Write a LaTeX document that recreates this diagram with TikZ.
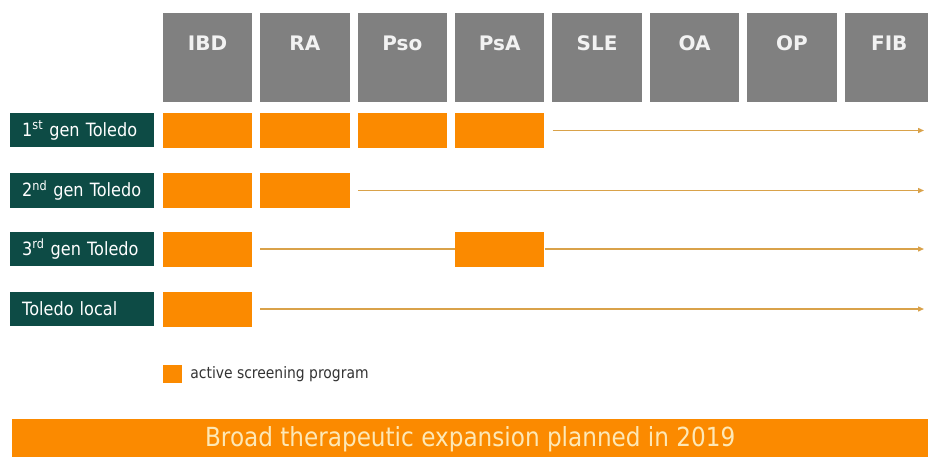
\documentclass[tikz,border=0pt]{standalone}
\usepackage{fontspec}
\setmainfont{DejaVu Sans}[FakeStretch=0.88]
\newfontfamily\hdrfont{DejaVu Sans}
\usetikzlibrary{arrows.meta}

\definecolor{hdrgray}{HTML}{808080}
\definecolor{barorange}{HTML}{FB8A00}
\definecolor{rowgreen}{HTML}{0D4B45}
\definecolor{linegold}{HTML}{D9A24A}
\definecolor{cream}{HTML}{FDE8B6}

\tikzset{
  hdr/.style={fill=hdrgray, inner sep=0pt, minimum width=89.5pt, text height=37pt, text depth=52pt,
    anchor=north, text=white!95!black, font=\hdrfont\bfseries\fontsize{20}{24}\selectfont},
  rowlbl/.style={fill=rowgreen, text=white, inner xsep=12pt, inner ysep=0pt, minimum height=34pt,
    text width=120pt, align=left, anchor=west, font=\fontsize{18.3}{20}\selectfont},
  bar/.style={fill=barorange, minimum width=89.5pt, minimum height=35pt, inner sep=0pt},
  track/.style={linegold, line width=1.3pt},
  trackend/.style={track, -{Triangle[length=6pt,width=5pt]}}
}

\begin{document}
\begin{tikzpicture}[x=1pt, y=-1pt]

\useasboundingbox (0,0) rectangle (928,457);

% column heads
\foreach \name/\lbl [count=\i from 0] in {ibd/IBD, ra/RA, pso/Pso, psa/PsA, sle/SLE, oa/OA, op/OP, fib/FIB}
{
  \node[hdr] (\name) at (207.5+97.4*\i,13) {\lbl};
}

% row labels
\node[rowlbl] (gen1) at (10,130.5) {1\textsuperscript{st} gen Toledo};
\node[rowlbl] (gen2) at (10,190.5) {2\textsuperscript{nd} gen Toledo};
\node[rowlbl] (gen3) at (10,249) {3\textsuperscript{rd} gen Toledo};
\node[rowlbl] (local) at (10,309) {Toledo local};

% active programs
\node[bar] (r1ibd) at (207.5,130.5) {};
\node[bar] (r1ra)  at (304.9,130.5) {};
\node[bar] (r1pso) at (402.3,130.5) {};
\node[bar] (r1psa) at (499.7,130.5) {};

\node[bar] (r2ibd) at (207.5,190.5) {};
\node[bar] (r2ra)  at (304.9,190.5) {};

\node[bar] (r3ibd) at (207.5,249) {};
\node[bar] (r3psa) at (499.7,249) {};

\node[bar] (r4ibd) at (207.5,309) {};

%\node[bar] (r4ra) at (304.9,309) {};

\coordinate (e1) at (924,130.5);
\coordinate (e2) at (924,190.5);
\coordinate (e3) at (924,249);
\coordinate (e4) at (924,309);

\draw[trackend] ([xshift=8pt]r1psa.east) -- (e1);
\draw[trackend] ([xshift=8pt]r2ra.east) -- (e2);
\draw[track]    ([xshift=8pt]r3ibd.east) -- (r3psa.west);
\draw[trackend] (r3psa.east) -- (e3);
\draw[trackend] ([xshift=8pt]r4ibd.east) -- (e4);

% key
\node[bar, minimum width=19pt, minimum height=18pt] (keybox) at (172.5,374) {};
\node[anchor=west, inner sep=0pt, text=black!80, font=\fontsize{15.8}{18}\selectfont] (keytxt)
  at ([xshift=8pt]keybox.east) {active screening program};

\node[fill=barorange, minimum width=916pt, minimum height=40pt, anchor=north west, inner sep=0pt,
  text=cream, font=\fontsize{26.3}{30}\selectfont] (expand) at (12,419)
  {Broad therapeutic expansion planned in 2019};

\end{tikzpicture}
\end{document}
